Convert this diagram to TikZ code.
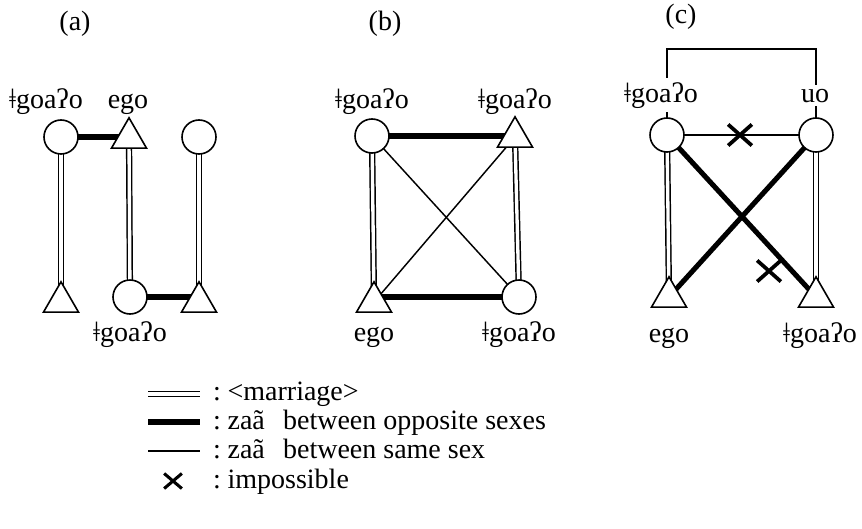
\documentclass[tikz,border=0pt]{standalone}
\usepackage{fontspec}
\setmainfont{Liberation Serif}
\usetikzlibrary{shapes.geometric,shapes.misc,backgrounds}
\begin{document}
\begin{tikzpicture}[x=0.75pt,y=-0.75pt,
  txt/.style={font=\fontsize{21}{25}\selectfont},
  fem/.style={circle,draw,fill=white,line width=1.2pt,minimum size=25.5pt,inner sep=0pt},
  male/.style={regular polygon,regular polygon sides=3,draw,fill=white,line width=1.2pt,minimum size=30.3pt,inner sep=0pt},
  lab/.style={txt,anchor=base,inner sep=1pt},
  marriage/.style={double,double distance=2.5pt,line width=1.1pt},
  zaaopp/.style={line width=3.8pt},
  zaasame/.style={line width=1.1pt},
  nogo/.style={cross out,draw,line width=2.8pt,minimum width=15pt,minimum height=13pt,inner sep=0pt}]
\useasboundingbox (0,0) rectangle (862,528);

% ---------- (a)
\node[lab] (ta) at (75,31) {(a)};
\node[fem]  (a1) at (61,137) {};
\node[male] (a2) at (129,138) {};
\node[fem]  (a3) at (199,137) {};
\node[male] (a4) at (61,302) {};
\node[fem]  (a5) at (130,297) {};
\node[male] (a6) at (199,302) {};
\node[lab] (la1) at (46,108) {ǂgoaʔo};
\node[lab] (la2) at (128,108) {ego};
\node[lab] (la5) at (130,341) {ǂgoaʔo};
\begin{scope}[on background layer]
  \draw[marriage] (a1.center) -- (a4.center);
  \draw[marriage] (a2.center) -- (a5.center);
  \draw[marriage] (a3.center) -- (a6.center);
  \draw[zaaopp] (a1.center) -- (a1 -| a2);
  \draw[zaaopp] (a5.center) -- (a5 -| a6);
\end{scope}

% ---------- (b)
\node[lab] (tb) at (385,31) {(b)};
\node[fem]  (b1) at (372,136) {};
\node[male] (b2) at (515,137) {};
\node[male] (b3) at (374,302) {};
\node[fem]  (b4) at (519,297) {};
\node[lab] (lb1) at (372,108) {ǂgoaʔo};
\node[lab] (lb2) at (515,108) {ǂgoaʔo};
\node[lab] (lb3) at (374,341) {ego};
\node[lab] (lb4) at (519,341) {ǂgoaʔo};
\begin{scope}[on background layer]
  \draw[marriage] (b1.center) -- (b3.center);
  \draw[marriage] (b2.center) -- (b4.center);
  \draw[zaaopp] (b1.center) -- (b1 -| b2);
  \draw[zaaopp] (b4.center) -- (b4 -| b3);
  \draw[zaasame] (b1.center) -- (b4.center);
  \draw[zaasame] (b3.center) -- (b2.center);
\end{scope}

% ---------- (c)
\node[lab] (tc) at (681,24) {(c)};
\node[fem]  (c1) at (667,135) {};
\node[fem]  (c2) at (816,135) {};
\node[male] (c3) at (669,297) {};
\node[male] (c4) at (816,297) {};
\coordinate (k) at (740,49);
\node[lab,fill=white,inner sep=3pt] (lc1) at (661,102) {ǂgoaʔo};
\node[lab,fill=white,inner sep=3pt] (lc2) at (815,102) {uo};
\node[lab] (lc3) at (669,342) {ego};
\node[lab] (lc4) at (820,342) {ǂgoaʔo};
\node[nogo] (x1) at (740,135) {};
\node[nogo] (x2) at (769,271) {};
\begin{scope}[on background layer]
  \draw[zaasame] (c1.center) -- (c1 |- k) -- (c2 |- k) -- (c2.center);
  \draw[marriage] (c1.center) -- (c3.center);
  \draw[marriage] (c2.center) -- (c4.center);
  \draw[zaasame] (c1.center) -- (c2.center);
  \draw[zaaopp] (c1.center) -- (c4.center);
  \draw[zaaopp] (c2.center) -- (c3.center);
\end{scope}

% ---------- legend
\coordinate (m1) at (148,394); \coordinate (m2) at (200,394);
\coordinate (o1) at (148,422); \coordinate (o2) at (200,422);
\coordinate (s1) at (148,451); \coordinate (s2) at (200,451);
\draw[marriage] (m1) -- (m2);
\draw[zaaopp] (o1) -- (o2);
\draw[zaasame] (s1) -- (s2);
\node[nogo,minimum width=11pt,minimum height=9pt,line width=2.3pt] (x3) at (173,481) {};
\node[lab] (k1) at (217,400) {:};
\node[lab] (k2) at (217,429) {:};
\node[lab] (k3) at (217,458) {:};
\node[lab] (k4) at (217,488) {:};
\node[lab,anchor=base west] (e1) at (226,400) {<marriage>};
\node[lab,anchor=base west] (e2) at (226,429) {zaã\hspace{0.65em}between opposite sexes};
\node[lab,anchor=base west] (e3) at (226,458) {zaã\hspace{0.65em}between same sex};
\node[lab,anchor=base west] (e4) at (226,488) {impossible};
\end{tikzpicture}
\end{document}
